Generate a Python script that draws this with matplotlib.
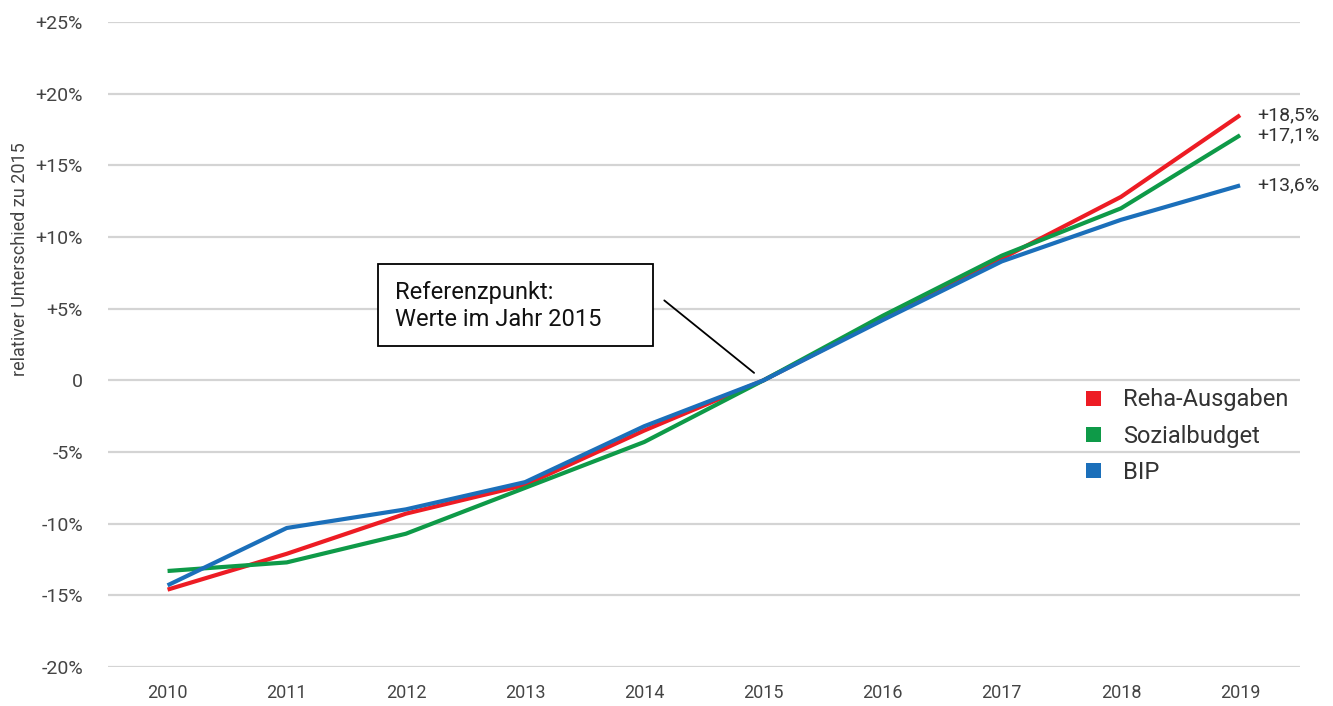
import matplotlib
matplotlib.use('Agg')
import matplotlib.pyplot as plt
from matplotlib.patches import Rectangle, Patch

plt.rcParams['font.family'] = ['Roboto', 'DejaVu Sans']

# data: relative change vs. 2015 in percent
years = [2010, 2011, 2012, 2013, 2014, 2015, 2016, 2017, 2018, 2019]
reha = [-14.6, -12.1, -9.3, -7.3, -3.5, 0.0, 4.3, 8.5, 12.8, 18.5]
sozial = [-13.3, -12.7, -10.7, -7.5, -4.3, 0.0, 4.5, 8.7, 12.0, 17.1]
bip = [-14.3, -10.3, -9.0, -7.1, -3.2, 0.0, 4.2, 8.3, 11.2, 13.6]

series_names = ['Reha-Ausgaben', 'Sozialbudget', 'BIP']
colors = ['#ED1C24', '#0E9A48', '#1B6FBA']
end_labels = ['+18,5%', '+17,1%', '+13,6%']

yticks = [-20, -15, -10, -5, 0, 5, 10, 15, 20, 25]
ytick_labels = ['-20%', '-15%', '-10%', '-5%', '0', '+5%', '+10%', '+15%', '+20%', '+25%']

fig = plt.figure(figsize=(13.33, 7.06), dpi=100)
ax = fig.add_axes([0.081, 0.0552, 0.894, 0.9136])

for vals, c in zip([reha, sozial, bip], colors):
    ax.plot(years, vals, color=c, lw=3, solid_capstyle='butt', zorder=3)

# end value labels
for vals, lab in zip([reha, sozial, bip], end_labels):
    ax.annotate(lab, xy=(years[-1], vals[-1]), xytext=(12, 0), textcoords='offset points',
                va='center', ha='left', fontsize=14, color='#333333')

ax.set_xlim(2009.5, 2019.5)
ax.set_ylim(-20, 25)
ax.set_xticks(years)
ax.set_xticklabels([str(y) for y in years], fontsize=13, color='#444444')
ax.set_yticks(yticks)
ax.set_yticklabels(ytick_labels, fontsize=14, color='#444444')
ax.tick_params(length=0, pad=18)
ax.tick_params(axis='x', pad=12)
ax.grid(axis='y', color='#d4d4d4', lw=1.6)
ax.set_axisbelow(True)
for s in ax.spines.values():
    s.set_visible(False)

ax.set_ylabel('relativer Unterschied zu 2015', fontsize=13, color='#444444')
ax.yaxis.set_label_coords(-0.066, 0.633)

# reference annotation
ax.add_patch(Rectangle((2011.77, 2.37), 2.30, 5.73, facecolor='white', edgecolor='black',
                       lw=1.3, zorder=4))
ax.text(2011.91, 5.2, 'Referenzpunkt:\nWerte im Jahr 2015', fontsize=17, va='center',
        ha='left', linespacing=1.25, color='#111111', zorder=5)
ax.annotate('', xy=(2014.94, 0.4), xytext=(2014.15, 5.7),
            arrowprops=dict(arrowstyle='-', color='black', lw=1.3))

handles = [Patch(facecolor=c, edgecolor='none') for c in colors]
ax.legend(handles, series_names, loc='upper left', bbox_to_anchor=(0.821, 0.432),
          frameon=False, fontsize=17, handlelength=0.6, handleheight=0.6,
          handletextpad=0.95, labelspacing=0.56, borderpad=0, borderaxespad=0,
          labelcolor='#333333')

fig.savefig('out.png', dpi=100)
